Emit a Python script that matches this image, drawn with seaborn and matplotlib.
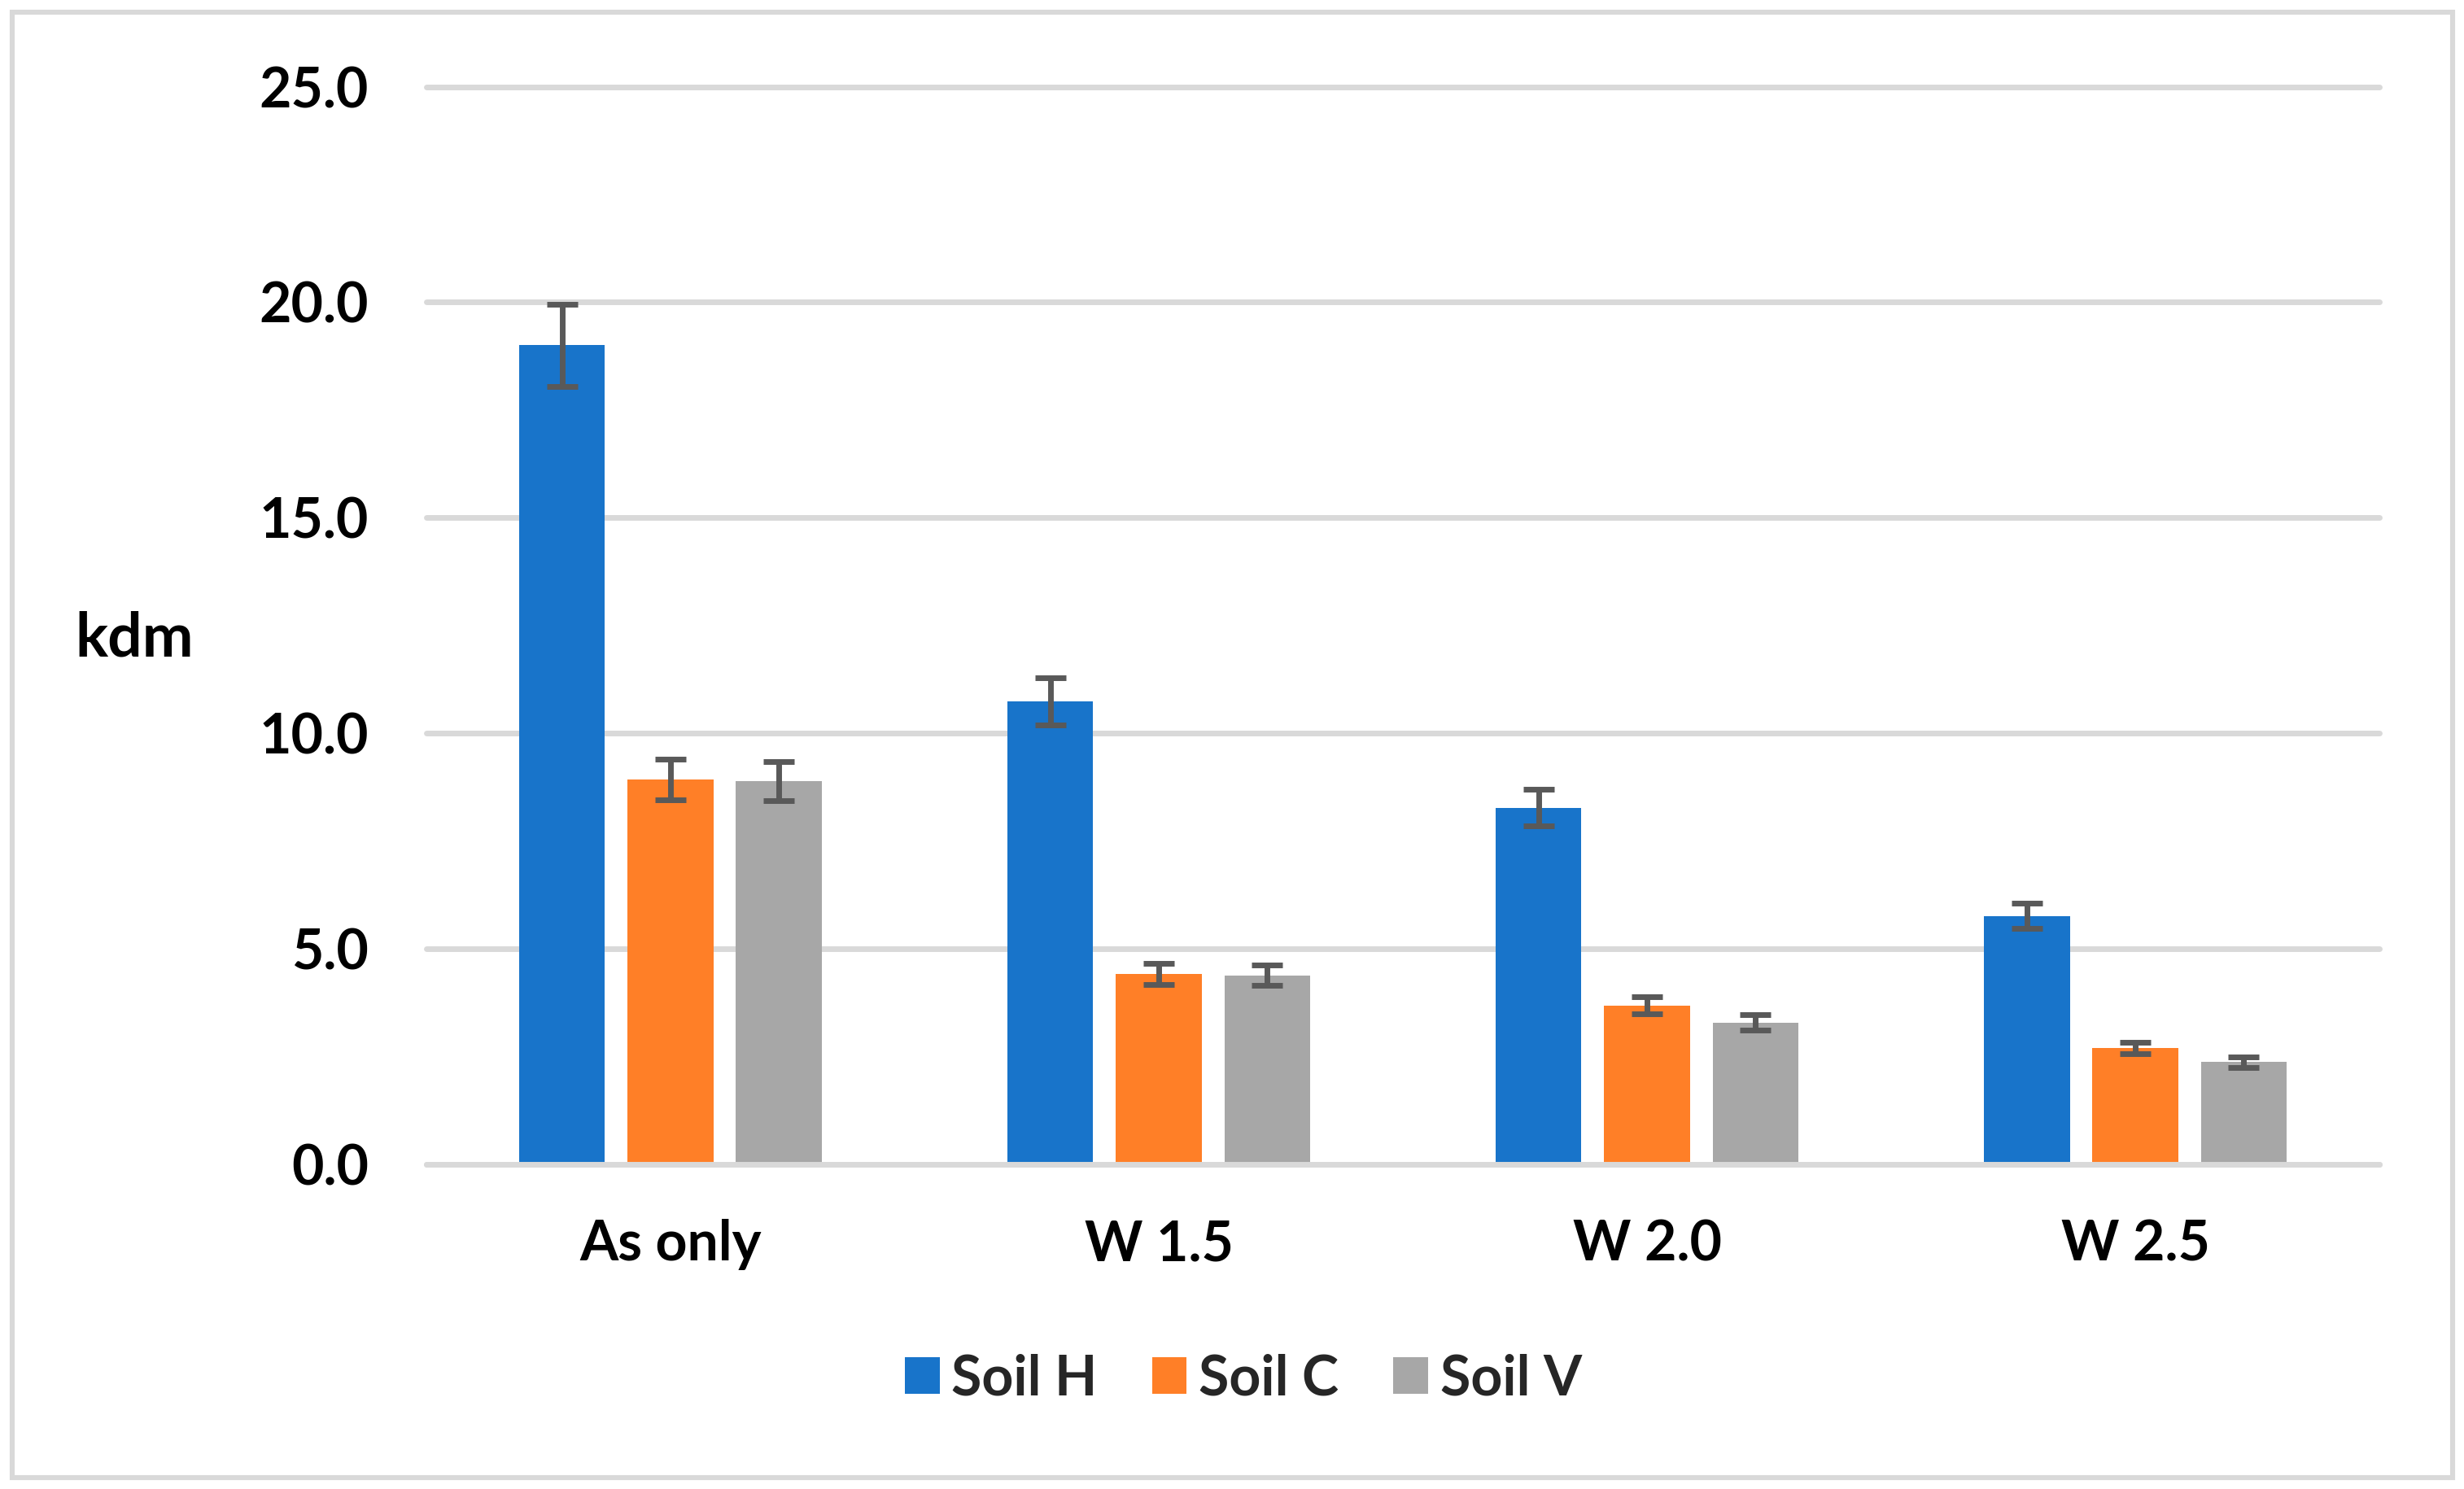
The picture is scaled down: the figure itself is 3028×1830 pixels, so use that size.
import matplotlib
matplotlib.use("Agg")
import matplotlib.pyplot as plt
from matplotlib.patches import Rectangle
import seaborn as sns
import pandas as pd

# ---- data ----
categories = ["As only", "W 1.5", "W 2.0", "W 2.5"]
soils = ["Soil H", "Soil C", "Soil V"]
soil_h = [19.0, 10.75, 8.28, 5.77]
soil_c = [8.93, 4.42, 3.69, 2.70]
soil_v = [8.89, 4.39, 3.30, 2.38]
err_h = [0.95, 0.55, 0.43, 0.29]
err_c = [0.47, 0.24, 0.20, 0.13]
err_v = [0.45, 0.24, 0.18, 0.12]
y_ticks = [0, 5, 10, 15, 20, 25]

colors = ["#1874CA", "#FF7F27", "#A7A7A7"]
values = [soil_h, soil_c, soil_v]
errors = [err_h, err_c, err_v]

rows = []
for s, vals in zip(soils, values):
    for c, v in zip(categories, vals):
        rows.append({"cat": c, "val": v, "soil": s})
df = pd.DataFrame(rows)

sns.set_theme(style="white")
plt.rcParams["font.family"] = ["Lato", "DejaVu Sans"]
plt.rcParams["font.weight"] = "bold"

fig = plt.figure(figsize=(15.14, 9.15), dpi=200)
ax = fig.add_axes([0.1730, 0.2178, 0.9657 - 0.1730, 0.9418 - 0.2178])

sns.barplot(data=df, x="cat", y="val", hue="soil", order=categories,
            hue_order=soils, palette=colors, width=0.666, gap=0.21,
            errorbar=None, saturation=1, linewidth=0, ax=ax)

for cont, errs in zip(ax.containers, errors):
    xs = [p.get_x() + p.get_width() / 2 for p in cont.patches]
    hs = [p.get_height() for p in cont.patches]
    ax.errorbar(xs, hs, yerr=errs, fmt="none", ecolor="#595959",
                elinewidth=2.5, capsize=7, capthick=2.5, zorder=4)

ax.set_xlim(-0.5, 3.5)
ax.set_ylim(0, 25)
ax.set_yticks(y_ticks)
ax.set_yticklabels([f"{t:.1f}" for t in y_ticks])
ax.yaxis.grid(True, color="#D9D9D9", linewidth=2.5)
ax.xaxis.grid(False)
ax.set_axisbelow(True)
for gl in ax.get_ygridlines():
    gl.set_clip_on(False)
ax.axhline(0, color="#D9D9D9", linewidth=2.5, zorder=2.5, clip_on=False)

for sp in ax.spines.values():
    sp.set_visible(False)

ax.tick_params(axis="y", length=0, pad=25.5, labelsize=24.5, labelcolor="black")
ax.tick_params(axis="x", length=0, pad=24, labelsize=24.5, labelcolor="black")
for lbl in ax.get_xticklabels() + ax.get_yticklabels():
    lbl.set_fontweight("bold")

ax.set_xlabel("")
ax.set_ylabel("kdm", rotation=0, fontsize=27, fontweight="bold",
              color="black", ha="center", va="center")
ax.yaxis.set_label_coords(-0.1496, 0.488)

handles, labels = ax.get_legend_handles_labels()
if ax.get_legend() is not None:
    ax.get_legend().remove()
fig.legend(handles, labels, loc="center", bbox_to_anchor=(0.5046, 0.0738),
           ncol=3, frameon=False, prop={"size": 24.5, "weight": "bold"},
           handlelength=0.63, handleheight=0.62, handletextpad=0.22,
           columnspacing=0.98)

# outer chart border
W, H = 3028, 1830
inset = 14.5
fig.patches.append(Rectangle((inset / W, inset / H), 1 - 2 * inset / W,
                             1 - 2 * inset / H, transform=fig.transFigure,
                             fill=False, edgecolor="#D9D9D9", linewidth=2.2))

fig.savefig("out.png", dpi=200, facecolor="white")
